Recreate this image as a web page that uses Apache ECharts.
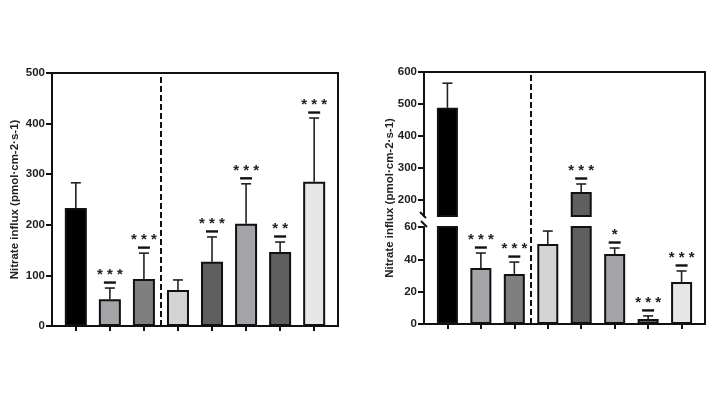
<!DOCTYPE html>
<html>
<head>
<meta charset="utf-8">
<script src="https://cdn.jsdelivr.net/npm/echarts@6/dist/echarts.min.js"></script>
<style>
  html, body { margin: 0; padding: 0; background: #fff; }
  #chart { width: 720px; height: 397px; }
</style>
</head>
<body>
<div id="chart"></div>
<script>
// ---- data ----
const barColors = ['#000000', '#a3a3a8', '#7f7f7f', '#d4d4d4', '#5f5f5f', '#a3a3a8', '#5f5f5f', '#e6e6e6']

const leftMeans = [233, 53, 93, 71, 127, 202, 146, 285]
const leftSD = [50, 22, 51, 20, 49, 79, 20, 126]
const leftSig = ['', '***', '***', '', '***', '***', '**', '***']
const leftTicks = [0, 100, 200, 300, 400, 500]

const rightMeans = [488, 34.6, 31, 49.5, 225, 43.3, 3.1, 26]
const rightSD = [77, 9.3, 7.3, 8, 25, 3.7, 1.9, 6.8]
const rightSig = ['', '***', '***', '', '***', '*', '***', '***']
const rightUpperTicks = [200, 300, 400, 500, 600]
const rightLowerTicks = [0, 20, 40, 60]
const axisBreak = [60, 150] // lower segment max, upper segment min

const yTitle = 'Nitrate influx (pmol·cm-2·s-1)'
const groupDivider = 2.5

// ---- helpers ----
const FONT = 'Liberation Sans, Arial, sans-serif'
const INK = '#111'
const xMin = -0.7
const xMax = 7.7

const barItems = (means, keep) =>
  means
    .map((v, i) => ({ value: [i, v], itemStyle: { color: barColors[i] } }))
    .filter((d) => (keep ? keep(d.value[1]) : true))

const errItems = (means, sds, sigs, keep) =>
  means
    .map((v, i) => [i, v, sds[i], sigs[i]])
    .filter((d) => (keep ? keep(d[1] + d[2]) : true))

const renderErr = (params, api) => {
  const x = api.value(0)
  const m = api.value(1)
  const s = api.value(2)
  const p0 = api.coord([x, m])
  const p1 = api.coord([x, m + s])
  return {
    type: 'group',
    children: [
      { type: 'line', shape: { x1: p0[0], y1: p0[1], x2: p1[0], y2: p1[1] }, style: { stroke: '#222', lineWidth: 1.6 } },
      { type: 'line', shape: { x1: p1[0] - 5, y1: p1[1], x2: p1[0] + 5, y2: p1[1] }, style: { stroke: '#222', lineWidth: 1.6 } }
    ]
  }
}

const renderSig = (params, api) => {
  const x = api.value(0)
  const top = api.value(1) + api.value(2)
  const sig = api.value(3)
  if (!sig) return null
  const p = api.coord([x, top])
  return {
    type: 'group',
    children: [
      { type: 'line', shape: { x1: p[0] - 6, y1: p[1] - 5.5, x2: p[0] + 6, y2: p[1] - 5.5 }, style: { stroke: '#111', lineWidth: 2.4 } },
      {
        type: 'text',
        x: p[0],
        y: p[1] - 13,
        style: { text: sig.split('').join(' '), fill: '#222', font: 'bold 15px ' + FONT, align: 'center', verticalAlign: 'middle' }
      }
    ]
  }
}

const labelStyle = { color: '#222', fontSize: 11.5, fontWeight: 'bold', fontFamily: FONT, margin: 7 }
const nameStyle = { color: '#222', fontSize: 11.5, fontWeight: 'bold', fontFamily: FONT }
const lineStyle = { color: INK, width: 2 }
const xTicks = [0, 1, 2, 3, 4, 5, 6, 7]

const divider = () => ({
  silent: true,
  symbol: 'none',
  label: { show: false },
  lineStyle: { color: INK, width: 2, type: [6, 3] },
  data: [{ xAxis: groupDivider }]
})

const option = {
  animation: false,
  grid: [
    { left: 52, width: 286, top: 73, height: 253, show: true, borderColor: INK, borderWidth: 2 },
    { left: 424, width: 281, top: 72, height: 144 },
    { left: 424, width: 281, top: 227, height: 97 },
    { left: 424, width: 281, top: 72, height: 252 }
  ],
  xAxis: [
    {
      gridIndex: 0, type: 'value', min: xMin, max: xMax,
      axisLine: { show: true, onZero: false, lineStyle },
      axisTick: { show: true, length: 5, lineStyle, customValues: xTicks },
      axisLabel: { show: false },
      splitLine: { show: false }
    },
    {
      gridIndex: 1, type: 'value', min: xMin, max: xMax, show: false
    },
    {
      gridIndex: 2, type: 'value', min: xMin, max: xMax,
      axisLine: { show: true, onZero: false, lineStyle },
      axisTick: { show: true, length: 5, lineStyle, customValues: xTicks },
      axisLabel: { show: false },
      splitLine: { show: false }
    },
    {
      gridIndex: 3, type: 'value', min: xMin, max: xMax, position: 'top',
      axisLine: { show: true, onZero: false, lineStyle },
      axisTick: { show: false },
      axisLabel: { show: false },
      splitLine: { show: false }
    }
  ],
  yAxis: [
    {
      gridIndex: 0, type: 'value', min: leftTicks[0], max: leftTicks[leftTicks.length - 1], interval: 100,
      name: yTitle, nameLocation: 'middle', nameGap: 31, nameTextStyle: nameStyle,
      axisLine: { show: true, onZero: false, lineStyle },
      axisTick: { show: true, length: 6, lineStyle },
      axisLabel: labelStyle,
      splitLine: { show: false }
    },
    {
      gridIndex: 1, type: 'value', min: axisBreak[1], max: rightUpperTicks[rightUpperTicks.length - 1],
      axisLine: { show: true, onZero: false, lineStyle },
      axisTick: { show: true, length: 6, lineStyle, customValues: rightUpperTicks },
      axisLabel: Object.assign({ customValues: rightUpperTicks }, labelStyle),
      splitLine: { show: false }
    },
    {
      gridIndex: 2, type: 'value', min: rightLowerTicks[0], max: axisBreak[0], interval: 20,
      axisLine: { show: true, onZero: false, lineStyle },
      axisTick: { show: true, length: 6, lineStyle },
      axisLabel: labelStyle,
      splitLine: { show: false }
    },
    {
      gridIndex: 3, type: 'value', min: 0, max: 1,
      name: yTitle, nameLocation: 'middle', nameGap: 28, nameTextStyle: nameStyle,
      axisLine: { show: false, onZero: false }, axisTick: { show: false }, axisLabel: { show: false }, splitLine: { show: false }
    },
    {
      gridIndex: 3, type: 'value', min: 0, max: 1, position: 'right',
      axisLine: { show: true, onZero: false, lineStyle },
      axisTick: { show: false }, axisLabel: { show: false }, splitLine: { show: false }
    }
  ],
  series: [
    // left panel
    {
      type: 'bar', xAxisIndex: 0, yAxisIndex: 0, barWidth: 22,
      itemStyle: { borderColor: INK, borderWidth: 2 },
      data: barItems(leftMeans),
      markLine: divider()
    },
    { type: 'custom', xAxisIndex: 0, yAxisIndex: 0, renderItem: renderErr, data: errItems(leftMeans, leftSD, leftSig), z: 3 },
    { type: 'custom', xAxisIndex: 0, yAxisIndex: 0, renderItem: renderSig, data: errItems(leftMeans, leftSD, leftSig), z: 3 },

    // right panel, upper segment
    {
      type: 'bar', xAxisIndex: 1, yAxisIndex: 1, barWidth: 21, clip: true,
      itemStyle: { borderColor: INK, borderWidth: 2 },
      data: barItems(rightMeans, (v) => v > axisBreak[1])
    },
    { type: 'custom', xAxisIndex: 1, yAxisIndex: 1, renderItem: renderErr, data: errItems(rightMeans, rightSD, rightSig, (t) => t > axisBreak[0]), z: 3 },
    { type: 'custom', xAxisIndex: 1, yAxisIndex: 1, renderItem: renderSig, data: errItems(rightMeans, rightSD, rightSig, (t) => t > axisBreak[0]), z: 3 },

    // right panel, lower segment
    {
      type: 'bar', xAxisIndex: 2, yAxisIndex: 2, barWidth: 21, clip: true,
      itemStyle: { borderColor: INK, borderWidth: 2 },
      data: barItems(rightMeans)
    },
    { type: 'custom', xAxisIndex: 2, yAxisIndex: 2, renderItem: renderErr, data: errItems(rightMeans, rightSD, rightSig, (t) => t <= axisBreak[0]), z: 3 },
    { type: 'custom', xAxisIndex: 2, yAxisIndex: 2, renderItem: renderSig, data: errItems(rightMeans, rightSD, rightSig, (t) => t <= axisBreak[0]), z: 3 },

    // right panel frame: carries the dashed group divider
    {
      type: 'scatter', xAxisIndex: 3, yAxisIndex: 3, symbolSize: 0, silent: true,
      data: [[groupDivider, 0.5]],
      markLine: divider()
    }
  ],
  // axis break marks on the right panel's y axis
  graphic: [
    { type: 'line', shape: { x1: 420, y1: 212, x2: 426, y2: 218 }, style: { stroke: INK, lineWidth: 2 } },
    { type: 'line', shape: { x1: 421, y1: 221, x2: 427, y2: 227 }, style: { stroke: INK, lineWidth: 2 } }
  ]
}

const myChart = echarts.init(document.getElementById('chart'), null, { renderer: 'canvas' })
myChart.setOption(option)
</script>
</body>
</html>
